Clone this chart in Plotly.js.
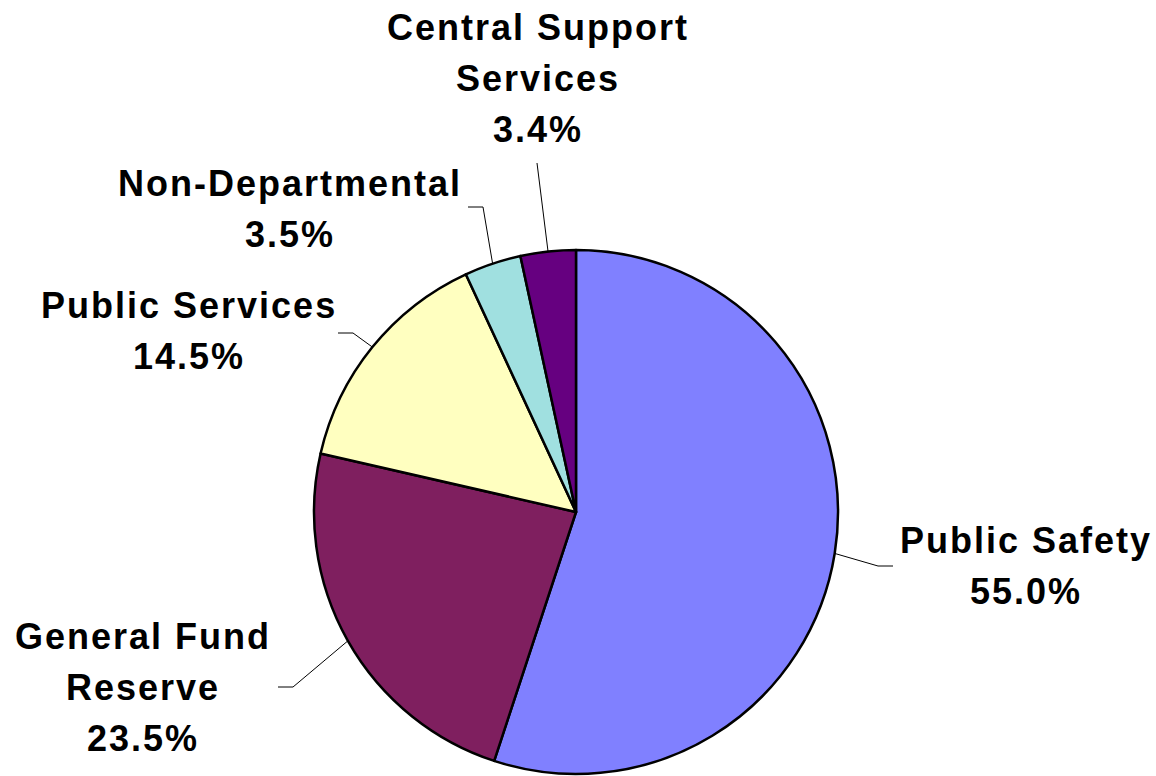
<!DOCTYPE html>
<html>
<head>
<meta charset="utf-8">
<script src="https://cdn.plot.ly/plotly-3.0.1.min.js"></script>
<style>html,body{margin:0;padding:0;background:#fff;}#chart{width:1156px;height:776px;}</style>
</head>
<body>
<div id="chart"></div>
<script>
// ---- Data ----
const categories = ["Public Safety", "General Fund Reserve", "Public Services", "Non-Departmental", "Central Support Services"];
const values = [55.0, 23.5, 14.5, 3.5, 3.4];
const labelLines = [
  ["Public Safety"],
  ["General Fund", "Reserve"],
  ["Public Services"],
  ["Non-Departmental"],
  ["Central Support", "Services"]
];
const colors = ["#8080FF", "#7F1F5F", "#FFFFC0", "#A0E0E0", "#660080"];

// ---- Layout config (pixels) ----
const W = 1156, H = 776;
const cx = 576, cy = 512, R = 262;
const labelPos = [
  {x: 1026, y: 540},
  {x: 143, y: 636},
  {x: 189, y: 306},
  {x: 290, y: 183},
  {x: 538, y: 28}
];
const lineStep = 51;
const leaders = [
  [[878, 566], [893, 566]],
  [[293, 687], [278, 687]],
  [[353, 333], [338, 333]],
  [[483, 207], [468, 207]],
  [[537, 163], null]
];

const px = x => x / W;
const py = y => 1 - y / H;

const total = values.reduce((a, b) => a + b, 0);
const annotations = [];
const shapes = [];
let cum = 0;
values.forEach((v, i) => {
  const mid = (cum + v / 2) / total * 2 * Math.PI;
  cum += v;
  const ex = cx + R * Math.sin(mid), ey = cy - R * Math.cos(mid);
  const lines = labelLines[i].concat([v.toFixed(1) + "%"]);
  lines.forEach((t, k) => {
    annotations.push({
      xref: "paper", yref: "paper",
      x: px(labelPos[i].x), y: py(labelPos[i].y + k * lineStep),
      xanchor: "center", yanchor: "middle",
      text: '<span style="letter-spacing:2px"><b>' + t + "</b></span>", showarrow: false,
      font: {family: "Liberation Sans, Arial, sans-serif", size: 36, color: "#000"}
    });
  });
  const [el, en] = leaders[i];
  let path = `M ${px(ex)} ${py(ey)} L ${px(el[0])} ${py(el[1])}`;
  if (en) path += ` L ${px(en[0])} ${py(en[1])}`;
  shapes.push({type: "path", xref: "paper", yref: "paper", path: path,
    line: {color: "#000", width: 1}, layer: "below"});
});

const trace = {
  type: "pie",
  labels: categories,
  values: values,
  sort: false,
  direction: "clockwise",
  rotation: 0,
  textinfo: "none",
  hoverinfo: "label+percent",
  marker: {colors: colors, line: {color: "#000", width: 2.5}},
  domain: {x: [(cx - R) / W, (cx + R) / W], y: [1 - (cy + R) / H, 1 - (cy - R) / H]},
  showlegend: false
};

Plotly.newPlot("chart", [trace], {
  width: W, height: H,
  margin: {l: 0, r: 0, t: 0, b: 0},
  paper_bgcolor: "#fff",
  showlegend: false,
  annotations: annotations,
  shapes: shapes
}, {displayModeBar: false, staticPlot: true});
</script>
</body>
</html>
